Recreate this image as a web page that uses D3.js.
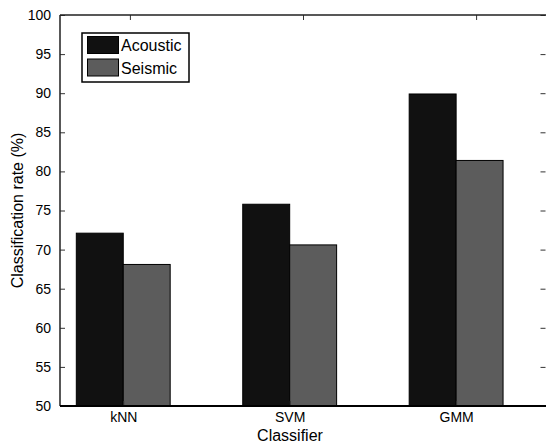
<!DOCTYPE html>
<html>
<head>
<meta charset="utf-8">
<script src="https://cdn.jsdelivr.net/npm/d3@7"></script>
<style>
  body { margin: 0; background: #fff; }
  svg { display: block; font-family: Arial, "Liberation Sans", sans-serif; }
</style>
</head>
<body>
<div id="chart"></div>
<script>
// data
var classifiers = ["kNN", "SVM", "GMM"];
var acoustic = [72.1, 75.8, 89.9];
var seismic = [68.1, 70.6, 81.4];
var seriesNames = ["Acoustic", "Seismic"];
var seriesColors = ["#111111", "#5c5c5c"];
var yTicks = [50, 55, 60, 65, 70, 75, 80, 85, 90, 95, 100];

var w = 546, h = 443;
var plotL = 60, plotR = 546, plotT = 15, plotB = 406;

var svg = d3.select("#chart").append("svg")
    .attr("width", w)
    .attr("height", h);

svg.append("rect")
    .attr("width", w)
    .attr("height", h)
    .style("fill", "#fff");

// x in "group index" units, like the matlab bar plot
var x = d3.scaleLinear().domain([0.62, 3.54]).range([plotL, plotR]);
var y = d3.scaleLinear().domain([50, 100]).range([plotB, plotT]);
var barW = 0.282;

var series = [acoustic, seismic];

var bars = svg.append("g");
series.forEach(function (vals, si) {
    bars.selectAll(null)
        .data(vals)
        .join("rect")
        .attr("x", (d, i) => x(i + 1 + (si - 1) * barW))
        .attr("y", d => y(d))
        .attr("width", x(barW) - x(0))
        .attr("height", d => y(50) - y(d))
        .attr("fill", seriesColors[si])
        .attr("stroke", "#000")
        .attr("stroke-width", 1);
});

// left axis
var yAxis = d3.axisLeft(y).tickValues(yTicks).tickSize(-5).tickPadding(9);
var gy = svg.append("g")
    .attr("transform", "translate(" + plotL + ",0)")
    .call(yAxis);
gy.selectAll("text").style("font-size", "14px").attr("fill", "#000");
gy.select(".domain").remove();

// right ticks mirror
var yAxisR = d3.axisRight(y).tickValues(yTicks).tickSize(-5).tickFormat("");
var gyr = svg.append("g")
    .attr("transform", "translate(" + (plotR - 0.5) + ",0)")
    .call(yAxisR);
gyr.select(".domain").remove();

// bottom axis with category labels
var xAxis = d3.axisBottom(x).tickValues([1, 2, 3])
    .tickFormat((d, i) => classifiers[i]).tickSize(-5).tickPadding(6);
var gx = svg.append("g")
    .attr("transform", "translate(0," + plotB + ")")
    .call(xAxis);
gx.selectAll("text").style("font-size", "14px").attr("fill", "#000");
gx.select(".domain").remove();

var xAxisT = d3.axisTop(x).tickValues([1.04, 2.08, 3.12]).tickSize(-5).tickFormat("");
var gxt = svg.append("g")
    .attr("transform", "translate(0," + plotT + ")")
    .call(xAxisT);
gxt.select(".domain").remove();

svg.selectAll(".tick line").attr("stroke", "#333");

// frame
svg.append("path")
    .attr("d", "M" + plotL + "," + plotT + "H" + plotR + "M" + plotL + "," + plotT + "V" + plotB)
    .attr("stroke", "#222")
    .attr("stroke-width", 1.5)
    .attr("fill", "none");
svg.append("line")
    .attr("x1", plotL).attr("x2", plotR)
    .attr("y1", plotB).attr("y2", plotB)
    .attr("stroke", "#000")
    .attr("stroke-width", 2);

// axis titles
svg.append("text")
    .attr("x", 290)
    .attr("y", 441)
    .attr("text-anchor", "middle")
    .style("font-size", "16px")
    .text("Classifier");

svg.append("text")
    .attr("transform", "translate(23," + ((plotT + plotB) / 2) + ") rotate(-90)")
    .attr("text-anchor", "middle")
    .style("font-size", "16px")
    .text("Classification rate (%)");

// legend
var lg = svg.append("g").attr("transform", "translate(82,33)");
lg.append("rect")
    .attr("width", 107)
    .attr("height", 49)
    .attr("fill", "#fff")
    .attr("stroke", "#000")
    .attr("stroke-width", 1.5);
seriesNames.forEach(function (name, i) {
    lg.append("rect")
        .attr("x", 5.5)
        .attr("y", 3.5 + i * 22.5)
        .attr("width", 31)
        .attr("height", 17)
        .attr("fill", seriesColors[i])
        .attr("stroke", "#000")
        .attr("stroke-width", 1);
    lg.append("text")
        .attr("x", 39)
        .attr("y", 18 + i * 22.5)
        .style("font-size", "16px")
        .text(name);
});
</script>
</body>
</html>
